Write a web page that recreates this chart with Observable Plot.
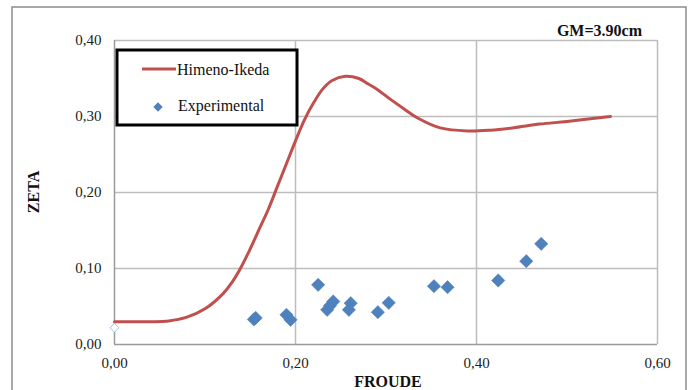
<!DOCTYPE html>
<html>
<head>
<meta charset="utf-8">
<script src="https://cdn.jsdelivr.net/npm/d3@7"></script>
<script src="https://cdn.jsdelivr.net/npm/@observablehq/plot@0.6"></script>
<style>
  html, body { margin: 0; padding: 0; background: #fff; }
  #chart { width: 689px; height: 390px; overflow: hidden; }
</style>
</head>
<body>
<div id="chart"></div>
<script>
// Himeno-Ikeda prediction curve
const froudeCurve = [0,0.02,0.04,0.06,0.08,0.10,0.12,0.13,0.14,0.15,0.16,0.17,0.18,0.19,0.20,0.21,0.22,0.23,0.24,0.255,0.27,0.28,0.29,0.305,0.32,0.335,0.36,0.39,0.415,0.44,0.47,0.50,0.548];
const zetaCurve   = [0.030,0.030,0.030,0.031,0.036,0.047,0.067,0.082,0.102,0.126,0.152,0.178,0.208,0.238,0.268,0.296,0.318,0.336,0.347,0.353,0.350,0.343,0.336,0.3225,0.310,0.298,0.285,0.281,0.282,0.285,0.290,0.2935,0.300];

// Experimental points
const froudeExp = [0.154,0.156,0.190,0.1945,0.225,0.235,0.238,0.2417,0.259,0.261,0.291,0.303,0.353,0.368,0.424,0.455,0.4715];
const zetaExp   = [0.033,0.035,0.039,0.0325,0.0785,0.0456,0.051,0.0566,0.0456,0.0544,0.0425,0.0548,0.0767,0.0754,0.0842,0.1096,0.1325];

// Hollow marker at zero speed
const froudeZero = [0];
const zetaZero = [0.022];

const xTicks = [0, 0.2, 0.4, 0.6];
const yTicks = [0, 0.1, 0.2, 0.3, 0.4];
const seriesNames = ["Himeno-Ikeda", "Experimental"];
const title = "GM=3.90cm";
const xLabel = "FROUDE";
const yLabel = "ZETA";

const curve = froudeCurve.map((x, i) => ({x, y: zetaCurve[i]}));
const exp = froudeExp.map((x, i) => ({x, y: zetaExp[i]}));
const zero = froudeZero.map((x, i) => ({x, y: zetaZero[i]}));

const fmt = d => d.toFixed(2).replace(".", ",");
const red = "#c0504d", blue = "#4f81bd";

const plot = Plot.plot({
  width: 689,
  height: 390,
  marginLeft: 114,
  marginRight: 32,
  marginTop: 40,
  marginBottom: 46,
  style: {fontFamily: "'Liberation Serif', serif", fontSize: "15px", color: "#222", background: "#fff"},
  x: {domain: [0, 0.6], ticks: xTicks, tickFormat: fmt, tickSize: 0, tickPadding: 13, label: null},
  y: {domain: [0, 0.4], ticks: yTicks, tickFormat: fmt, tickSize: 0, tickPadding: 13, label: null},
  marks: [
    Plot.gridX(xTicks.slice(1), {stroke: "#bdbdbd", strokeOpacity: 1, strokeWidth: 1.5}),
    Plot.gridY(yTicks.slice(1), {stroke: "#bdbdbd", strokeOpacity: 1, strokeWidth: 1.5}),
    Plot.ruleX([0], {stroke: "#9a9a9a", strokeWidth: 1.5}),
    Plot.ruleY([0], {stroke: "#9a9a9a", strokeWidth: 1.5}),
    Plot.axisX({ticks: xTicks, tickFormat: fmt, tickSize: 0, tickPadding: 13, label: null, fill: "#222"}),
    Plot.axisY({ticks: yTicks, tickFormat: fmt, tickSize: 0, tickPadding: 13, label: null, fill: "#222"}),
    Plot.line(curve, {x: "x", y: "y", stroke: red, strokeWidth: 3, curve: "catmull-rom"}),
    Plot.dot(zero, {x: "x", y: "y", symbol: "diamond2", r: 4, stroke: "#9dc3e6", strokeWidth: 1, fill: "white"}),
    Plot.dot(exp, {x: "x", y: "y", symbol: "diamond2", r: 6, fill: blue, stroke: blue, strokeWidth: 0.5})
  ]
});

document.getElementById("chart").appendChild(plot);
const svg = d3.select(plot);
const serif = "Liberation Serif, serif";

// outer chart frame
svg.insert("rect", ":first-child")
  .attr("x", 12).attr("y", 7).attr("width", 674).attr("height", 400)
  .attr("fill", "white").attr("stroke", "#8c8c8c").attr("stroke-width", 1.5);

function addText(x, y, str, opts = {}) {
  const t = svg.append("text").attr("x", x).attr("y", y)
    .style("font-family", serif)
    .style("font-size", (opts.size || 16) + "px")
    .style("font-weight", opts.bold ? "bold" : "normal")
    .style("text-anchor", opts.anchor || "start")
    .style("fill", "#111")
    .text(str);
  if (opts.transform) t.attr("transform", opts.transform);
  return t;
}

// title
addText(642, 36, title, {bold: true, anchor: "end"});
// axis titles
addText(388, 387, xLabel, {bold: true, anchor: "middle"});
addText(0, 0, yLabel, {bold: true, anchor: "middle", transform: "translate(39,192) rotate(-90)"});

// legend
const lg = svg.append("g");
lg.append("rect").attr("x", 117).attr("y", 50).attr("width", 180).attr("height", 75)
  .attr("fill", "white").attr("stroke", "black").attr("stroke-width", 3);
lg.append("line").attr("x1", 142).attr("x2", 176).attr("y1", 69).attr("y2", 69)
  .attr("stroke", red).attr("stroke-width", 3);
addText(177, 75, seriesNames[0]);
lg.append("path").attr("transform", "translate(158,107)")
  .attr("d", d3.symbol(d3.symbolDiamond2, 55)()).attr("fill", blue);
addText(178, 111, seriesNames[1]);
</script>
</body>
</html>
